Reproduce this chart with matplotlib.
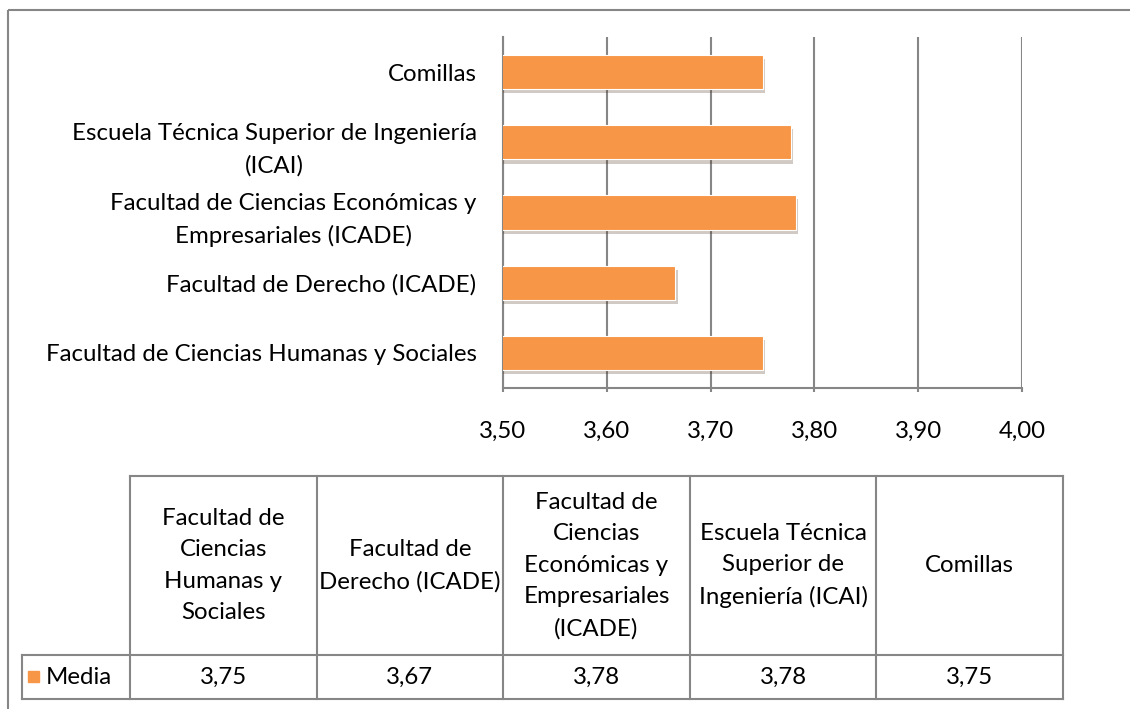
import matplotlib
matplotlib.use('Agg')
import matplotlib.pyplot as plt
from matplotlib import patheffects
from matplotlib.patches import Rectangle

plt.rcParams['font.family'] = ['Lato', 'DejaVu Sans']

# data (bottom -> top in the bar chart, left -> right in the table)
AXIS_LABELS = ['Facultad de Ciencias Humanas y Sociales',
               'Facultad de Derecho (ICADE)',
               'Facultad de Ciencias Económicas y\nEmpresariales (ICADE)',
               'Escuela Técnica Superior de Ingeniería\n(ICAI)',
               'Comillas']
TABLE_LABELS = ['Facultad de\nCiencias\nHumanas y\nSociales',
                'Facultad de\nDerecho (ICADE)',
                'Facultad de\nCiencias\nEconómicas y\nEmpresariales\n(ICADE)',
                'Escuela Técnica\nSuperior de\nIngeniería (ICAI)',
                'Comillas']
media = [3.75, 3.666, 3.782, 3.777, 3.75]
SERIES = 'Media'
XTICKS = [3.5, 3.6, 3.7, 3.8, 3.9, 4.0]

BAR_COLOR = '#F79646'
GRID = '#868686'
FS = 17.3
LS = 1.62

W, H = 1130, 709
fig = plt.figure(figsize=(W / 100, H / 100), dpi=100)

# bar chart
ax = fig.add_axes([503 / W, 1 - 388 / H, 519 / W, 351 / H])
y = list(range(len(media)))
ax.barh(y, media, height=0.49, color=BAR_COLOR, edgecolor='white', linewidth=0.8,
        zorder=3,
        path_effects=[patheffects.SimplePatchShadow(offset=(2, -3), alpha=0.25),
                      patheffects.Normal()])
ax.set_xlim(3.5, 4.0)
ax.set_ylim(-0.5, len(media) - 0.5)
ax.set_xticks(XTICKS)
ax.set_xticklabels([f'{v:.2f}'.replace('.', ',') for v in XTICKS], fontsize=FS)
ax.set_yticks(y)
ax.set_yticklabels(AXIS_LABELS, fontsize=FS, ma='center', linespacing=LS)
ax.grid(axis='x', color=GRID, linewidth=1.5, zorder=0)
ax.tick_params(axis='x', length=3, width=1.5, color=GRID, pad=21)
ax.tick_params(axis='y', length=0, pad=19)
for s in ['top', 'right']:
    ax.spines[s].set_visible(False)
for s in ['left', 'bottom']:
    ax.spines[s].set_color(GRID)
    ax.spines[s].set_linewidth(1.5)

# data table + outer frame, drawn in pixel coordinates
ov = fig.add_axes([0, 0, 1, 1], zorder=5)
ov.set_xlim(0, W)
ov.set_ylim(H, 0)
ov.axis('off')

ov.add_patch(Rectangle((8, 10), W, H, fill=False, edgecolor=GRID, linewidth=1.5,
                       clip_on=False))

x0, cw = 130, 186.6
top, mid, bot = 476, 655, 699
lw = 1.5
n = len(TABLE_LABELS)
ov.plot([x0, x0 + n * cw], [top, top], color=GRID, lw=lw)
ov.plot([22, x0 + n * cw], [mid, mid], color=GRID, lw=lw)
ov.plot([22, x0 + n * cw], [bot, bot], color=GRID, lw=lw)
ov.plot([22, 22], [mid, bot], color=GRID, lw=lw)
for i in range(n + 1):
    ov.plot([x0 + i * cw] * 2, [top, bot], color=GRID, lw=lw)
for i, (lab, v) in enumerate(zip(TABLE_LABELS, media)):
    cx = x0 + (i + 0.5) * cw
    ov.text(cx, (top + mid) / 2, lab, ha='center', va='center', fontsize=FS,
            linespacing=LS)
    ov.text(cx, (mid + bot) / 2, f'{v:.2f}'.replace('.', ','), ha='center',
            va='center', fontsize=FS)
ov.add_patch(Rectangle((28, 671), 11, 11, color=BAR_COLOR))
ov.text(46, (mid + bot) / 2, SERIES, ha='left', va='center', fontsize=FS)

fig.savefig('out.png', dpi=100)
